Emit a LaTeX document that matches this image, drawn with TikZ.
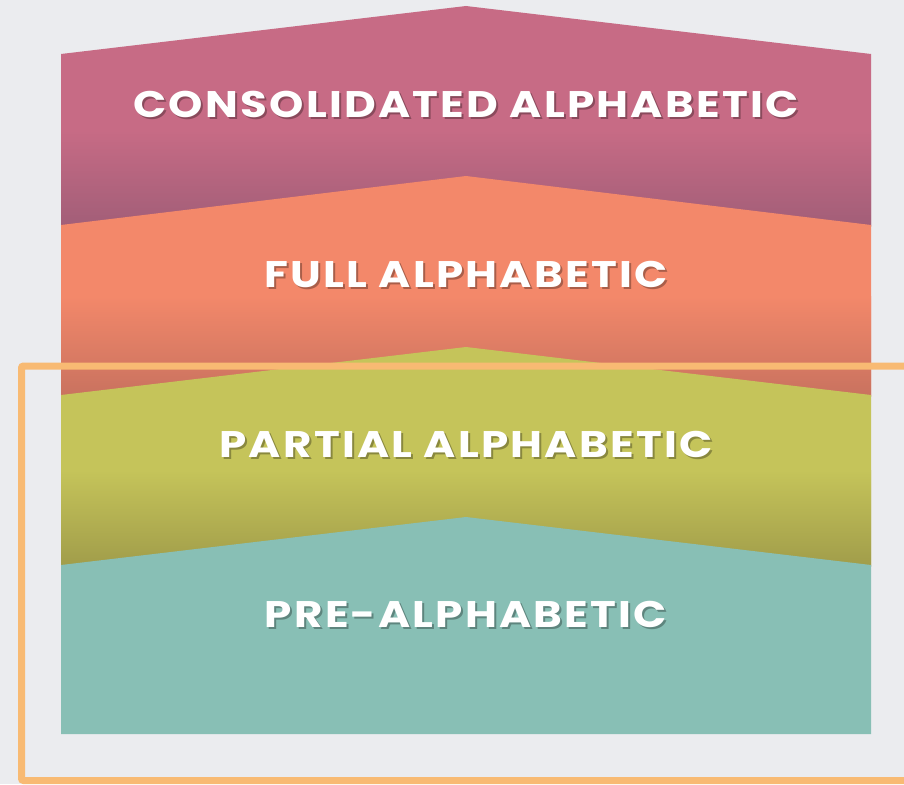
\documentclass[tikz,border=0pt]{standalone}
\usepackage{fontspec}
\newfontfamily\lab{Poppins}[FakeStretch=1.18, LetterSpace=6]
\usetikzlibrary{calc}
\definecolor{bg}{HTML}{EBECEF}
\definecolor{pinkA}{HTML}{C76B85}
\definecolor{pinkB}{HTML}{A25E78}
\definecolor{orA}{HTML}{F3886A}
\definecolor{orB}{HTML}{C9725F}
\definecolor{yeA}{HTML}{C5C45A}
\definecolor{yeB}{HTML}{A19D4A}
\definecolor{teA}{HTML}{88BFB5}
\definecolor{frame}{HTML}{F8BA73}
\tikzset{
  lbl/.style={text=white, font=\lab\bfseries\fontsize{37}{40}\selectfont, inner sep=0pt},
  shd/.style={text=black, opacity=0.3, font=\lab\bfseries\fontsize{37}{40}\selectfont, inner sep=0pt},
}
\begin{document}
\begin{tikzpicture}[x=1pt,y=-1pt]
\useasboundingbox (0,0) rectangle (904,784);
\fill[bg] (0,0) rectangle (904,784);
% layer 1 pink
\fill[pinkA] (61,54) -- (466,6) -- (871,54) -- (871,226) -- (61,226) -- cycle;
\shade[top color=pinkA, bottom color=pinkB] (61,130) rectangle (871,226);
% layer 2 orange
\fill[orA] (61,225) -- (466,176) -- (871,225) -- (871,396) -- (61,396) -- cycle;
\shade[top color=orA, bottom color=orB] (61,296) rectangle (871,396);
% layer 3 yellow
\fill[yeA] (61,395) -- (466,347) -- (871,395) -- (871,566) -- (61,566) -- cycle;
\shade[top color=yeA, bottom color=yeB] (61,470) rectangle (871,566);
% layer 4 teal
\fill[teA] (61,565) -- (466,517) -- (871,565) -- (871,734) -- (61,734) -- cycle;
% labels
\node[shd] (s1) at (468,106.5) {CONSOLIDATED ALPHABETIC};
\node[lbl] (t1) at (466,104) {CONSOLIDATED ALPHABETIC};
\node[shd] (s2) at (468,276.5) {FULL ALPHABETIC};
\node[lbl] (t2) at (466,274) {FULL ALPHABETIC};
\node[shd] (s3) at (468,446.5) {PARTIAL ALPHABETIC};
\node[lbl] (t3) at (466,444) {PARTIAL ALPHABETIC};
\node[shd] (s4) at (468,616.5) {PRE-ALPHABETIC};
\node[lbl] (t4) at (466,614) {PRE-ALPHABETIC};
% frame
\draw[frame, line width=7pt, rounded corners=2pt] (920,366) -- (21.5,366) -- (21.5,780.5) -- (920,780.5);
\end{tikzpicture}
\end{document}
